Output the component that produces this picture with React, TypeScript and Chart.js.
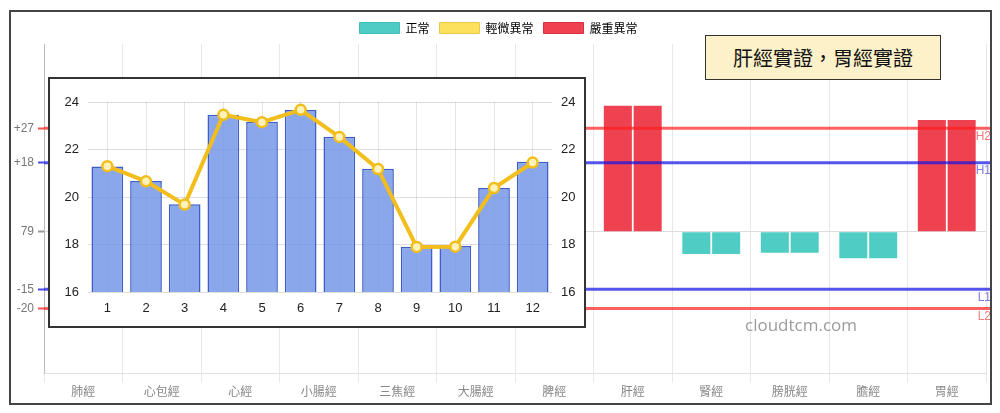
import React, { useEffect, useRef } from "react";
import { Chart, registerables } from "chart.js";

Chart.register(...registerables);

// ---- Main chart data ----
const meridians = ["肺經", "心包經", "心經", "小腸經", "三焦經", "大腸經", "脾經", "肝經", "腎經", "膀胱經", "膽經", "胃經"];
const leftValues = [4, -3, 3, -2, 2, -4, 3, 32.9, -5.8, -5.5, -6.9, 29.2];
const rightValues = [5, -2, 2, -3, 3, -3, 2, 32.9, -5.8, -5.5, -6.9, 29.2];
const leftStatus = ["正常", "正常", "正常", "正常", "正常", "正常", "正常", "嚴重異常", "正常", "正常", "正常", "嚴重異常"];
const rightStatus = ["正常", "正常", "正常", "正常", "正常", "正常", "正常", "嚴重異常", "正常", "正常", "正常", "嚴重異常"];
const statusNames = ["正常", "輕微異常", "嚴重異常"];
const yTickValues = [27, 18, 0, -15, -20];
const yTickLabels = ["+27", "+18", "79", "-15", "-20"];
const refLineNames = ["H2", "H1", "L1", "L2"];
const refLineValues = [27, 18, -15, -20];
const annotationText = "肝經實證，胃經實證";
const watermark = "cloudtcm.com";

// ---- Inset chart data ----
const insetLabels = ["1", "2", "3", "4", "5", "6", "7", "8", "9", "10", "11", "12"];
const insetBars = [21.28, 20.67, 19.69, 23.46, 23.17, 23.66, 22.54, 21.19, 17.91, 17.94, 20.38, 21.48];
const insetLine = [21.3, 20.66, 19.68, 23.46, 23.15, 23.67, 22.53, 21.18, 17.9, 17.91, 20.38, 21.45];

const statusFill: Record<string, string> = {
  "正常": "#4FCDC4",
  "輕微異常": "#FBE15E",
  "嚴重異常": "rgba(238, 50, 66, 0.92)",
};
const statusStroke: Record<string, string> = {
  "正常": "#43BFB6",
  "輕微異常": "#E9C94A",
  "嚴重異常": "#D8303F",
};
const isRedLine = (name: string) => name === "H2" || name === "L2";

const CJK = "'Noto Sans CJK TC', 'Noto Sans', sans-serif";
const SANS = "'Liberation Sans', Arial, sans-serif";

const refLinesPlugin = {
  id: "refLines",
  afterDatasetsDraw(chart: any) {
    const { ctx, chartArea, scales } = chart;
    const y = scales.y;
    ctx.save();
    refLineNames.forEach((name, i) => {
      const py = y.getPixelForValue(refLineValues[i]);
      const red = isRedLine(name);
      ctx.strokeStyle = red ? "rgba(255, 30, 30, 0.7)" : "rgba(20, 20, 230, 0.72)";
      ctx.lineWidth = 3;
      ctx.beginPath();
      ctx.moveTo(chartArea.left, py);
      ctx.lineTo(chartArea.right + 6, py);
      ctx.stroke();
      ctx.fillStyle = red ? "rgba(240, 80, 80, 0.75)" : "rgba(80, 80, 220, 0.75)";
      ctx.font = `12px ${SANS}`;
      ctx.textAlign = "right";
      ctx.textBaseline = "middle";
      ctx.fillText(name, chartArea.right + 5, py + 8);
    });
    ctx.restore();
  },
};

function MainChart() {
  const ref = useRef<HTMLCanvasElement>(null);
  useEffect(() => {
    const tickColor = (v: number) => {
      if (v === 0) return "#999";
      if (v === 27 || v === -20) return "rgba(255, 40, 40, 0.8)";
      return "rgba(30, 30, 230, 0.8)";
    };
    const chart = new Chart(ref.current!, {
      type: "bar",
      data: {
        labels: meridians,
        datasets: [
          {
            label: "左",
            data: leftValues,
            backgroundColor: leftStatus.map((s) => statusFill[s]),
            borderColor: leftStatus.map((s) => statusStroke[s]),
            borderWidth: 0,
            categoryPercentage: 0.76,
            barPercentage: 0.94,
          },
          {
            label: "右",
            data: rightValues,
            backgroundColor: rightStatus.map((s) => statusFill[s]),
            borderColor: rightStatus.map((s) => statusStroke[s]),
            borderWidth: 0,
            categoryPercentage: 0.76,
            barPercentage: 0.94,
          },
        ],
      },
      options: {
        responsive: false,
        animation: false,
        layout: { padding: { left: 0, right: 4, top: 0, bottom: 2 } },
        plugins: {
          tooltip: { enabled: false },
          legend: {
            position: "top",
            labels: {
              boxWidth: 40,
              boxHeight: 11,
              padding: 10,
              color: "#666",
              font: { size: 12, family: CJK },
              generateLabels: () =>
                statusNames.map((s, i) => ({
                  text: s,
                  fillStyle: statusFill[s],
                  strokeStyle: statusStroke[s],
                  lineWidth: 1,
                  hidden: false,
                  datasetIndex: i,
                })),
            },
          },
        },
        scales: {
          x: {
            grid: { color: "#e8e8e8", tickLength: 9, offset: true },
            border: { color: "#e0e0e0" },
            ticks: { color: "#888", font: { size: 12, family: CJK }, padding: 2 },
          },
          y: {
            min: -37,
            max: 49,
            afterBuildTicks: (scale: any) => {
              scale.ticks = yTickValues.map((v) => ({ value: v }));
            },
            afterFit: (scale: any) => {
              scale.width = 33;
            },
            ticks: {
              color: "#777",
              font: { size: 12, family: SANS },
              padding: 4,
              callback: (_v: any, i: number) => yTickLabels[i],
            },
            grid: {
              tickLength: 6,
              tickWidth: 2,
              color: (c: any) => (c.tick && c.tick.value === 0 ? "#ddd" : "rgba(0,0,0,0)"),
              tickColor: (c: any) => tickColor(c.tick ? c.tick.value : 0),
            },
            border: { color: "#bbb" },
          },
        },
      },
      plugins: [refLinesPlugin],
    });
    return () => chart.destroy();
  }, []);
  return <canvas ref={ref} width={979} height={391} style={{ display: "block" }} />;
}

function InsetChart() {
  const ref = useRef<HTMLCanvasElement>(null);
  useEffect(() => {
    const chart = new Chart(ref.current!, {
      type: "bar",
      data: {
        labels: insetLabels,
        datasets: [
          {
            type: "line",
            label: "line",
            data: insetLine,
            borderColor: "#F1BE1C",
            borderWidth: 4,
            pointRadius: 5,
            pointBackgroundColor: "#FFF2B8",
            pointBorderColor: "#F1BE1C",
            pointBorderWidth: 2.5,
            tension: 0,
            order: 0,
          } as any,
          {
            type: "bar",
            label: "bar",
            data: insetBars,
            backgroundColor: "rgba(112, 148, 232, 0.82)",
            borderColor: "#3C5EC6",
            borderWidth: 1.5,
            barPercentage: 0.82,
            categoryPercentage: 1,
            order: 1,
          },
        ],
      },
      options: {
        responsive: false,
        animation: false,
        layout: { padding: { top: 23, left: 0, right: 0, bottom: 0 } },
        plugins: { legend: { display: false }, tooltip: { enabled: false } },
        scales: {
          x: {
            grid: { offset: false, color: "rgba(0,0,0,0.1)", drawTicks: false },
            border: { display: false },
            ticks: { color: "#222", font: { size: 13, family: SANS }, padding: 9 },
            afterFit: (s: any) => {
              s.height = 34;
            },
          },
          y: {
            min: 16,
            max: 24,
            ticks: { stepSize: 2, color: "#222", font: { size: 13, family: SANS }, padding: 9 },
            grid: { color: "rgba(0,0,0,0.13)", drawTicks: false },
            border: { display: false },
            afterFit: (s: any) => {
              s.width = 38;
            },
          },
          y2: {
            position: "right",
            min: 16,
            max: 24,
            ticks: { stepSize: 2, color: "#222", font: { size: 13, family: SANS }, padding: 9 },
            grid: { drawOnChartArea: false, drawTicks: false },
            border: { display: false },
            afterFit: (s: any) => {
              s.width = 32;
            },
          },
        },
      },
    });
    return () => chart.destroy();
  }, []);
  return <canvas ref={ref} width={534} height={247} style={{ display: "block" }} />;
}

export default function App() {
  return (
    <div style={{ position: "absolute", left: 0, top: 0, width: 1000, height: 413, background: "#fff", overflow: "hidden" }}>
      <div style={{ position: "absolute", left: 11, top: 12, width: 979, height: 391 }}>
        <MainChart />
      </div>
      <div
        style={{
          position: "absolute",
          left: 9,
          top: 10,
          width: 983,
          height: 395,
          border: "2px solid #444",
          boxSizing: "border-box",
          pointerEvents: "none",
        }}
      />
      <div
        style={{
          position: "absolute",
          left: 745,
          top: 315,
          fontFamily: "'Open Sans', 'Noto Sans', sans-serif",
          fontSize: 17,
          lineHeight: "20px",
          color: "#9c9c9c",
          whiteSpace: "nowrap",
        }}
      >
        {watermark}
      </div>
      <div
        style={{
          position: "absolute",
          left: 48,
          top: 77,
          width: 538,
          height: 251,
          border: "2px solid #333",
          boxSizing: "border-box",
          background: "#fff",
        }}
      >
        <InsetChart />
      </div>
      <div
        style={{
          position: "absolute",
          left: 705,
          top: 35,
          width: 236,
          height: 45,
          boxSizing: "border-box",
          border: "1.5px solid #333",
          background: "#FDF1CA",
          fontFamily: CJK,
          fontSize: 20,
          color: "#111",
          display: "flex",
          alignItems: "center",
          justifyContent: "center",
          whiteSpace: "nowrap",
        }}
      >
        {annotationText}
      </div>
    </div>
  );
}
